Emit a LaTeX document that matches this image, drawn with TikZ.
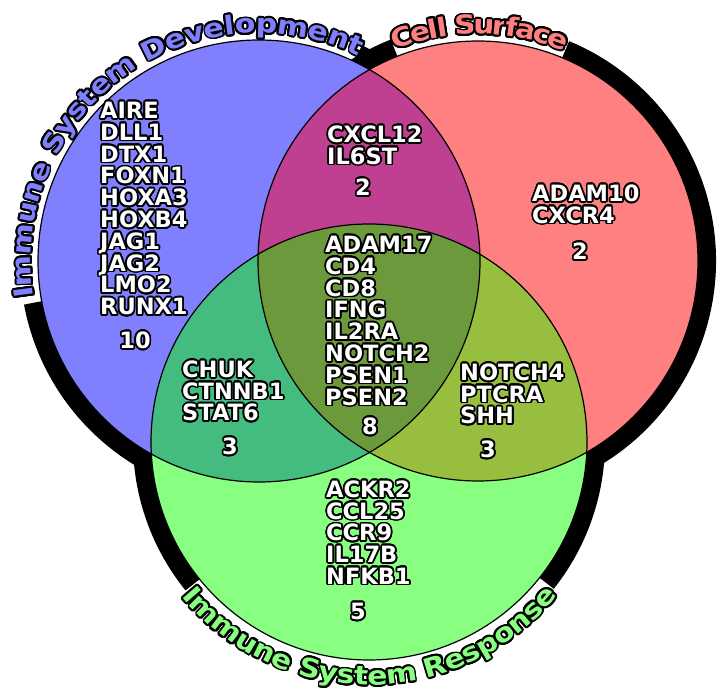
\documentclass[tikz,border=0pt]{standalone}
\usepackage{fontspec}
\setmainfont{DejaVu Sans}
\newfontfamily\titlefont[FakeStretch=1.15]{DejaVu Sans Bold}
\usepackage[copies]{contour}
\usetikzlibrary{decorations.text}
\definecolor{devc}{HTML}{8080FF}
\definecolor{cellc}{HTML}{FF8080}
\definecolor{respc}{HTML}{88FF80}
\definecolor{devcellc}{HTML}{BF4090}
\definecolor{devrespc}{HTML}{44BC80}
\definecolor{cellrespc}{HTML}{98BE40}
\definecolor{allc}{HTML}{6B993C}
\contournumber{20}
\newcommand{\gl}[1]{\contourlength{1.7pt}\contour{black}{#1}}
\newcommand{\tl}[1]{\contourlength{1.9pt}\contour{black}{#1}}
\tikzset{
  gene/.style={anchor=base west, inner sep=0pt, text=white, font=\bfseries\fontsize{22.5}{22.5}\selectfont},
  cnt/.style={gene, anchor=base},
  setline/.style={draw=black, line width=1.2pt},
  band/.style={draw=black, line width=18pt},
  ttl/.style 2 args={decorate, decoration={text effects along path, text={#1},
    text effects/.cd, text along path, fit text to path, character command=\tl,
    characters={text=#2, font=\titlefont\fontsize{26}{26}\selectfont}}},
}

\begin{document}
\begin{tikzpicture}[x=1pt, y=1pt]
\useasboundingbox (0,0) rectangle (718,693);
\coordinate (devo) at (259,432);
\coordinate (cello) at (478,432);
\coordinate (respo) at (369,251);

% black bands outside the sets
\draw[band] ([shift={(190.5:230)}]devo) arc[start angle=190.5, end angle=246, radius=230];
\draw[band] ([shift={(54:230)}]devo) arc[start angle=54, end angle=64.5, radius=230];
\draw[band] ([shift={(-63:229)}]cello) arc[start angle=-63, end angle=67.5, radius=229];
\draw[band] ([shift={(111.5:229)}]cello) arc[start angle=111.5, end angle=127, radius=229];
\draw[band] ([shift={(174:227)}]respo) arc[start angle=174, end angle=219, radius=227];
\draw[band] ([shift={(321.5:227)}]respo) arc[start angle=321.5, end angle=366, radius=227];

% the sets and their overlaps
\fill[devc] (devo) circle[radius=221];
\fill[cellc] (cello) circle[radius=220];
\fill[respc] (respo) circle[radius=218];
\begin{scope}
  \clip (devo) circle[radius=221];
  \fill[devcellc] (cello) circle[radius=220];
  \fill[devrespc] (respo) circle[radius=218];
\end{scope}
\begin{scope}
  \clip (cello) circle[radius=220];
  \fill[cellrespc] (respo) circle[radius=218];
\end{scope}
\begin{scope}
  \clip (devo) circle[radius=221];
  \clip (cello) circle[radius=220];
  \fill[allc] (respo) circle[radius=218];
\end{scope}
\draw[setline] (devo) circle[radius=221];
\draw[setline] (cello) circle[radius=220];
\draw[setline] (respo) circle[radius=218];

% set names
\path[ttl={Immune System Development}{devc}] ([shift={(189:228)}]devo) arc[start angle=189, end angle=64, radius=228];
\path[ttl={Cell Surface}{cellc}] ([shift={(111.5:227)}]cello) arc[start angle=111.5, end angle=67.5, radius=227];
\path[ttl={Immune System Response}{respc}] ([shift={(219.5:243)}]respo) arc[start angle=219.5, end angle=321, radius=243];

% genes of each region
\foreach \g [count=\i from 0] in {AIRE,DLL1,DTX1,FOXN1,HOXA3,HOXB4,JAG1,JAG2,LMO2,RUNX1}
  \node[gene] (dev\i) at (100,574.5-21.8*\i) {\gl{\g}};
\node[cnt] (devn) at (135,344.5) {\gl{10}};

\foreach \g [count=\i from 0] in {CXCL12,IL6ST}
  \node[gene] (devcell\i) at (327,550.5-21.8*\i) {\gl{\g}};
\node[cnt] (devcelln) at (363,497.5) {\gl{2}};

\foreach \g [count=\i from 0] in {ADAM10,CXCR4}
  \node[gene] (cell\i) at (532,491.5-21.8*\i) {\gl{\g}};
\node[cnt] (celln) at (580,433.5) {\gl{2}};

\foreach \g [count=\i from 0] in {ADAM17,CD4,CD8,IFNG,IL2RA,NOTCH2,PSEN1,PSEN2}
  \node[gene] (all\i) at (325,440.5-21.8*\i) {\gl{\g}};
\node[cnt] (alln) at (370,258.5) {\gl{8}};

\foreach \g [count=\i from 0] in {CHUK,CTNNB1,STAT6}
  \node[gene] (devresp\i) at (182,315.5-21.6*\i) {\gl{\g}};
\node[cnt] (devrespn) at (230,238.5) {\gl{3}};

\foreach \g [count=\i from 0] in {NOTCH4,PTCRA,SHH}
  \node[gene] (cellresp\i) at (460,312.5-21.6*\i) {\gl{\g}};
\node[cnt] (cellrespn) at (488,235.5) {\gl{3}};

\foreach \g [count=\i from 0] in {ACKR2,CCL25,CCR9,IL17B,NFKB1}
  \node[gene] (resp\i) at (326,195.5-21.7*\i) {\gl{\g}};
\node[cnt] (respn) at (358,73.5) {\gl{5}};
\end{tikzpicture}
\end{document}
